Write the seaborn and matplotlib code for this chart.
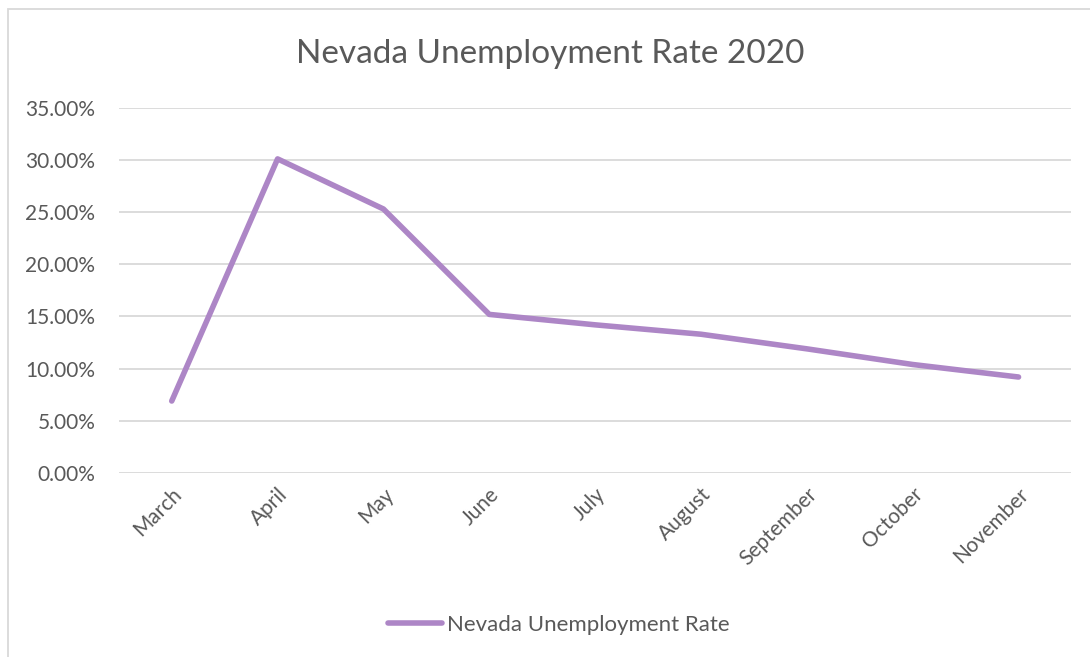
import matplotlib

matplotlib.use("Agg")
import matplotlib.pyplot as plt
import pandas as pd
import seaborn as sns
from matplotlib.patches import Rectangle
from matplotlib.ticker import FuncFormatter

months = ["March", "April", "May", "June", "July", "August",
          "September", "October", "November"]
rates = [6.9, 30.1, 25.3, 15.2, 14.2, 13.3, 11.9, 10.4, 9.2]
series_name = "Nevada Unemployment Rate"

sns.set_theme(style="white")
plt.rcParams["font.family"] = ["Lato", "DejaVu Sans"]

TEXT = "#595959"
LINE = "#AD86C6"

df = pd.DataFrame({"month": months, "rate": rates})

fig = plt.figure(figsize=(10.9, 6.57), dpi=100)
ax = fig.add_axes([0.109, 0.28, 0.874, 0.556])

sns.lineplot(data=df, x="month", y="rate", sort=False, ax=ax,
             color=LINE, linewidth=4, label=series_name,
             solid_capstyle="round", solid_joinstyle="round")

ax.set_xlim(-0.5, len(months) - 0.5)
ax.set_ylim(0, 35)
ax.set_yticks(range(0, 36, 5))
ax.yaxis.set_major_formatter(FuncFormatter(lambda v, _: f"{v:.2f}%"))
ax.grid(axis="y", color="#D9D9D9", linewidth=1.3)
ax.set_axisbelow(True)
for s in ax.spines.values():
    s.set_visible(False)
ax.tick_params(length=0, labelsize=15, colors=TEXT)
ax.tick_params(axis="x", pad=8)
ax.tick_params(axis="y", pad=17)
plt.setp(ax.get_xticklabels(), rotation=45, ha="right", rotation_mode="anchor")
ax.set_xlabel("")
ax.set_ylabel("")

ax.legend_.remove()
fig.legend(loc="center", bbox_to_anchor=(0.513, 0.049), frameon=False,
           fontsize=16, labelcolor=TEXT, handlelength=2.4, handletextpad=0.25)

fig.text(0.505, 0.918, "Nevada Unemployment Rate 2020", ha="center", va="center",
         fontsize=24, color=TEXT)

# light chart-area border, as in the cropped Excel chart
fig.add_artist(Rectangle((0.007, -0.01), 1.1, 0.997, transform=fig.transFigure,
                         fill=False, edgecolor="#D9D9D9", linewidth=1.3))

fig.savefig("out.png", dpi=100)
